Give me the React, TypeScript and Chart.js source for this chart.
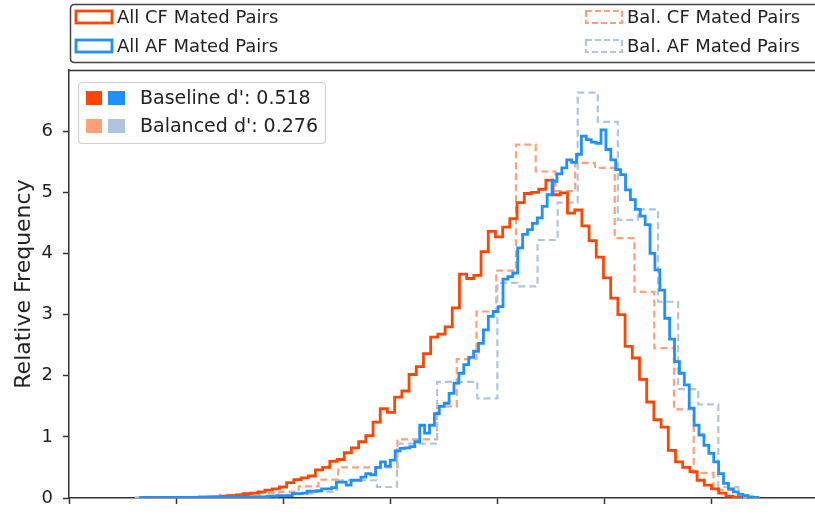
import React, { useEffect, useRef } from 'react';
import { Chart, registerables } from 'chart.js';

Chart.register(...registerables);

// ---- axis ticks (x tick labels lie outside the visible picture) ----
const X_TICKS = [0, 0.1, 0.2, 0.3, 0.4, 0.5, 0.6];
const Y_TICKS = [0, 1, 2, 3, 4, 5, 6];
const X_MIN = -0.0009;
const X_MAX = 0.6963;
const Y_MAX = 7.0;

// ---- All CF mated pairs (fine bins) ----
const CF_BIN_START = 0.0679;
const CF_BIN_WIDTH = 0.00673;
const CF_COUNTS = [
  0.005, 0.005, 0.01, 0.01, 0.01, 0.005, 0.01, 0.01, 0.015, 0.02,
  0.02, 0.03, 0.04, 0.05, 0.07, 0.08, 0.10, 0.13, 0.15, 0.18,
  0.25, 0.30, 0.33, 0.36, 0.46, 0.50, 0.60, 0.63, 0.74, 0.82,
  0.92, 1.02, 1.24, 1.46, 1.40, 1.65, 1.75, 2.02, 2.15, 2.36,
  2.63, 2.68, 2.80, 3.11, 3.66, 3.59, 3.64, 4.03, 4.36, 4.27,
  4.43, 4.57, 4.83, 4.98, 5.00, 5.05, 5.20, 4.96, 4.99, 4.66,
  4.71, 4.45, 4.21, 3.94, 3.60, 3.27, 3.00, 2.48, 2.29, 1.94,
  1.57, 1.28, 1.16, 0.78, 0.59, 0.50, 0.43, 0.29, 0.21, 0.15,
  0.08, 0.03, 0.01,
];

// ---- All AF mated pairs (fine bins) ----
const AF_BIN_START = 0.0658;
const AF_BIN_WIDTH = 0.00458;
const AF_COUNTS = [
  0.005, 0.01, 0.005, 0.005, 0.01, 0.01, 0.005, 0.01, 0.01, 0.01,
  0.01, 0.01, 0.015, 0.01, 0.015, 0.02, 0.015, 0.02, 0.02, 0.02,
  0.02, 0.025, 0.02, 0.02, 0.02, 0.02, 0.03, 0.03, 0.04, 0.04,
  0.04, 0.07, 0.07, 0.08, 0.11, 0.11, 0.12, 0.15, 0.15, 0.17,
  0.26, 0.26, 0.21, 0.29, 0.29, 0.34, 0.40, 0.38, 0.50, 0.59,
  0.52, 0.62, 0.77, 0.81, 0.82, 0.84, 0.92, 1.19, 1.06, 1.19,
  1.38, 1.50, 1.55, 1.71, 1.88, 2.04, 2.18, 2.30, 2.40, 2.53,
  2.75, 2.97, 3.05, 3.13, 3.58, 3.62, 3.68, 4.09, 4.31, 4.39,
  4.49, 4.58, 4.77, 4.96, 5.18, 5.30, 5.40, 5.53, 5.49, 5.62,
  5.92, 5.86, 5.82, 5.80, 6.02, 5.70, 5.53, 5.37, 5.29, 5.04,
  4.88, 4.72, 4.61, 4.47, 4.00, 3.73, 3.40, 2.94, 2.60, 2.23,
  2.04, 1.85, 1.47, 1.19, 1.03, 0.86, 0.73, 0.59, 0.40, 0.24,
  0.15, 0.10, 0.06, 0.04, 0.02, 0.01,
];

// ---- Balanced CF mated pairs (coarse bins) ----
const BAL_CF_BIN_START = 0.0661;
const BAL_CF_BIN_WIDTH = 0.01846;
const BAL_CF_COUNTS = [
  0.01, 0.01, 0.01, 0.02, 0.05, 0.06, 0.08, 0.10, 0.19, 0.30,
  0.50, 0.50, 0.50, 0.96, 0.96, 1.50, 2.27, 3.05, 3.72, 5.78,
  5.34, 5.02, 5.48, 5.40, 4.25, 3.37, 2.45, 1.45, 0.41, 0.13,
  0.02,
];

// ---- Balanced AF mated pairs (coarse bins) ----
const BAL_AF_BIN_START = 0.0616;
const BAL_AF_BIN_WIDTH = 0.01877;
const BAL_AF_COUNTS = [
  0.01, 0.01, 0.0, 0.01, 0.02, 0.03, 0.03, 0.05, 0.07, 0.10,
  0.29, 0.29, 0.18, 0.89, 0.89, 1.90, 1.90, 1.63, 3.52, 3.46,
  4.22, 4.83, 6.63, 6.15, 4.55, 4.72, 3.21, 1.78, 1.53, 0.18,
  0.01,
];

const SERIES_LABELS = ['All CF Mated Pairs', 'All AF Mated Pairs', 'Bal. CF Mated Pairs', 'Bal. AF Mated Pairs'];
const DPRIME_LABELS = ["Baseline d': 0.518", "Balanced d': 0.276"];

const C_CF = '#FF4500';
const C_AF = '#1E90FF';
const C_BCF = '#FFA07A';
const C_BAF = '#B0C4DE';
const FONT = "'DejaVu Sans', sans-serif";

function stepPoints(start: number, width: number, counts: number[]) {
  const pts: { x: number; y: number }[] = [{ x: start, y: 0 }];
  counts.forEach((c, i) => {
    const a = start + i * width;
    pts.push({ x: a, y: c }, { x: a + width, y: c });
  });
  pts.push({ x: start + counts.length * width, y: 0 });
  return pts;
}

function roundRectPath(ctx: CanvasRenderingContext2D, x: number, y: number, w: number, h: number, r: number) {
  ctx.beginPath();
  ctx.moveTo(x + r, y);
  ctx.lineTo(x + w - r, y);
  ctx.quadraticCurveTo(x + w, y, x + w, y + r);
  ctx.lineTo(x + w, y + h - r);
  ctx.quadraticCurveTo(x + w, y + h, x + w - r, y + h);
  ctx.lineTo(x + r, y + h);
  ctx.quadraticCurveTo(x, y + h, x, y + h - r);
  ctx.lineTo(x, y + r);
  ctx.quadraticCurveTo(x, y, x + r, y);
  ctx.closePath();
}

const decorations = {
  id: 'decorations',
  afterDraw(chart: any) {
    const ctx: CanvasRenderingContext2D = chart.ctx;
    const a = chart.chartArea;
    ctx.save();
    // top spine
    ctx.strokeStyle = '#333';
    ctx.lineWidth = 1.5;
    ctx.beginPath();
    ctx.moveTo(a.left, a.top + 0.5);
    ctx.lineTo(a.right, a.top + 0.5);
    ctx.stroke();

    // outer legend box
    ctx.fillStyle = '#ffffff';
    roundRectPath(ctx, 70.5, 4.5, 800, 58, 4);
    ctx.fill();
    ctx.strokeStyle = '#444';
    ctx.lineWidth = 1.5;
    ctx.stroke();

    const entries = [
      { x: 76, y: 17, color: C_CF, dash: [] as number[], label: SERIES_LABELS[0] },
      { x: 76, y: 46, color: C_AF, dash: [] as number[], label: SERIES_LABELS[1] },
      { x: 586, y: 17, color: C_BCF, dash: [6, 3], label: SERIES_LABELS[2] },
      { x: 586, y: 46, color: C_BAF, dash: [6, 3], label: SERIES_LABELS[3] },
    ];
    ctx.font = `18px ${FONT}`;
    ctx.textBaseline = 'middle';
    ctx.textAlign = 'left';
    entries.forEach((e) => {
      ctx.strokeStyle = e.color;
      ctx.lineWidth = e.dash.length ? 2.2 : 2.8;
      ctx.setLineDash(e.dash);
      ctx.strokeRect(e.x, e.y - 6, 36, 12);
      ctx.setLineDash([]);
      ctx.fillStyle = '#222';
      ctx.fillText(e.label, e.x + 41, e.y + 1);
    });

    // inner legend box
    ctx.globalAlpha = 0.85;
    ctx.fillStyle = '#ffffff';
    roundRectPath(ctx, 78.5, 82.5, 247, 61, 4);
    ctx.fill();
    ctx.globalAlpha = 1;
    ctx.strokeStyle = '#d0d0d0';
    ctx.lineWidth = 1.2;
    ctx.stroke();

    const rows = [
      { y: 98, c1: C_CF, c2: C_AF, label: DPRIME_LABELS[0] },
      { y: 126, c1: C_BCF, c2: C_BAF, label: DPRIME_LABELS[1] },
    ];
    ctx.font = `19px ${FONT}`;
    rows.forEach((r) => {
      ctx.fillStyle = r.c1;
      ctx.fillRect(86, r.y - 7, 16, 14);
      ctx.fillStyle = r.c2;
      ctx.fillRect(108, r.y - 7, 17, 14);
      ctx.fillStyle = '#222';
      ctx.fillText(r.label, 140, r.y + 1);
    });
    ctx.restore();
  },
};

export default function App() {
  const ref = useRef<HTMLCanvasElement | null>(null);

  useEffect(() => {
    if (!ref.current) return;
    const mk = (label: string, data: any[], color: string, dashed: boolean, order: number) => ({
      label,
      data,
      borderColor: color,
      backgroundColor: color,
      borderWidth: dashed ? 2.2 : 2.8,
      borderDash: dashed ? [7, 4] : [],
      borderJoinStyle: 'miter' as const,
      pointRadius: 0,
      fill: false,
      tension: 0,
      order,
    });
    const chart = new Chart(ref.current, {
      type: 'line',
      data: {
        datasets: [
          mk(SERIES_LABELS[2], stepPoints(BAL_CF_BIN_START, BAL_CF_BIN_WIDTH, BAL_CF_COUNTS), C_BCF, true, 4),
          mk(SERIES_LABELS[3], stepPoints(BAL_AF_BIN_START, BAL_AF_BIN_WIDTH, BAL_AF_COUNTS), C_BAF, true, 3),
          mk(SERIES_LABELS[0], stepPoints(CF_BIN_START, CF_BIN_WIDTH, CF_COUNTS), C_CF, false, 2),
          mk(SERIES_LABELS[1], stepPoints(AF_BIN_START, AF_BIN_WIDTH, AF_COUNTS), C_AF, false, 1),
        ],
      },
      options: {
        animation: false,
        responsive: false,
        devicePixelRatio: 1,
        parsing: false as any,
        layout: { autoPadding: false, padding: { top: 70, left: 0, right: 0, bottom: 0 } },
        plugins: { legend: { display: false }, tooltip: { enabled: false }, title: { display: false } },
        scales: {
          x: {
            type: 'linear',
            min: X_MIN,
            max: X_MAX,
            afterBuildTicks: (s: any) => { s.ticks = X_TICKS.map((v) => ({ value: v })); },
            afterFit: (s: any) => { s.height = 16; s.paddingLeft = 0; s.paddingRight = 0; },
            ticks: { display: false },
            grid: { display: true, drawOnChartArea: false, drawTicks: true, tickLength: 6, tickColor: '#333', tickWidth: 1.5 },
            border: { display: true, color: '#333', width: 1.5 },
          },
          y: {
            type: 'linear',
            min: 0,
            max: Y_MAX,
            afterBuildTicks: (s: any) => { s.ticks = Y_TICKS.map((v) => ({ value: v })); },
            afterFit: (s: any) => { s.width = 69; s.paddingTop = 0; s.paddingBottom = 0; },
            ticks: { color: '#222', padding: 10, font: { family: FONT, size: 18 } },
            grid: { display: true, drawOnChartArea: false, drawTicks: true, tickLength: 6, tickColor: '#333', tickWidth: 1.5 },
            border: { display: true, color: '#333', width: 1.5 },
            title: { display: true, text: 'Relative Frequency', color: '#222', font: { family: FONT, size: 22 }, padding: { top: 11, bottom: 0 } },
          },
        },
      },
      plugins: [decorations],
    } as any);
    return () => chart.destroy();
  }, []);

  return (
    <div style={{ position: 'fixed', left: 0, top: 0, width: 815, height: 514, overflow: 'hidden', background: '#fff' }}>
      <canvas ref={ref} width={815} height={514} style={{ display: 'block', width: 815, height: 514 }} />
    </div>
  );
}
